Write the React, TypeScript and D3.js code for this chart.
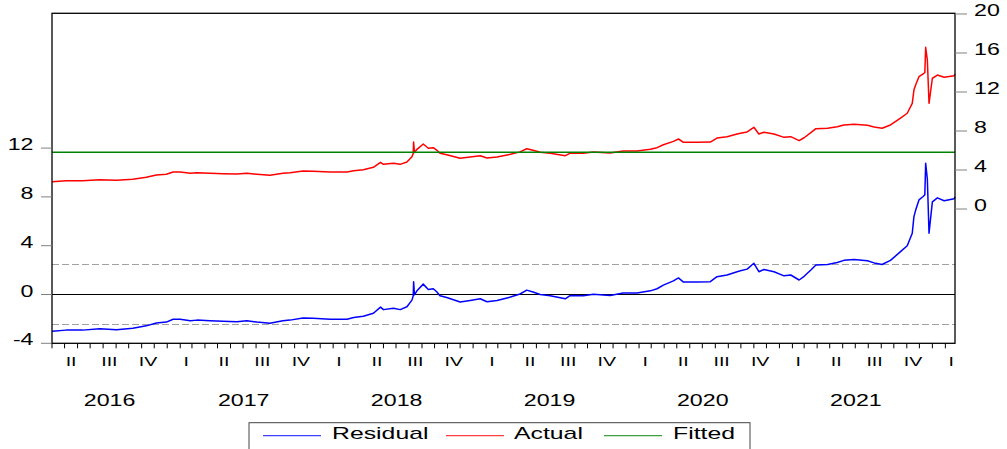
import React from "react";
import * as d3 from "d3";

const dates: string[] = [
  "2016-04-01","2016-05-05","2016-06-13","2016-07-24","2016-09-02","2016-10-11","2016-11-12","2016-12-06","2016-12-30",
  "2017-01-15","2017-02-01","2017-02-25","2017-03-13","2017-04-13","2017-05-14","2017-06-16","2017-07-10","2017-08-03",
  "2017-09-03","2017-10-04","2017-10-21","2017-11-21","2017-12-15",
  "2018-01-25","2018-03-06","2018-03-22","2018-04-14","2018-05-08","2018-05-25","2018-06-01","2018-06-25","2018-07-11",
  "2018-07-27","2018-08-08","2018-08-11","2018-08-12","2018-08-14","2018-08-20","2018-09-04","2018-09-16","2018-09-28",
  "2018-10-06","2018-10-14","2018-10-30","2018-12-01","2018-12-25",
  "2019-01-18","2019-02-03","2019-02-27","2019-03-23","2019-03-31","2019-04-23","2019-05-09","2019-05-24","2019-06-10",
  "2019-07-04","2019-08-09","2019-08-21","2019-09-21","2019-10-15","2019-11-24","2019-12-25",
  "2020-01-27","2020-02-28","2020-03-15","2020-03-30","2020-04-23","2020-05-05","2020-05-17","2020-06-19","2020-07-20",
  "2020-08-05","2020-08-29","2020-09-22","2020-09-30","2020-10-16","2020-11-01","2020-11-13","2020-11-25","2020-12-19",
  "2021-01-12","2021-01-28","2021-02-17","2021-03-01","2021-03-17","2021-03-29","2021-04-26","2021-05-19","2021-06-04",
  "2021-06-28","2021-07-30","2021-08-15","2021-09-03","2021-09-23","2021-10-17","2021-11-02","2021-11-14","2021-11-18",
  "2021-11-22","2021-11-30","2021-12-10","2021-12-14","2021-12-16","2021-12-20","2021-12-24",
  "2022-01-01","2022-01-13","2022-01-29","2022-02-22","2022-02-24",
];

const actualValues: number[] = [
  2.80,2.90,2.90,3.01,2.94,3.05,3.25,3.49,3.56,
  3.79,3.79,3.66,3.72,3.66,3.62,3.59,3.66,3.56,
  3.46,3.66,3.72,3.90,3.87,
  3.79,3.79,3.93,4.03,4.28,4.79,4.58,4.69,4.58,
  4.82,5.36,5.70,6.87,5.80,6.12,6.67,6.23,6.29,
  6.05,5.71,5.57,5.20,5.33,
  5.47,5.23,5.33,5.54,5.61,5.86,6.18,6.02,5.82,
  5.72,5.47,5.74,5.72,5.85,5.74,5.95,
  5.95,6.12,6.29,6.59,6.94,7.18,6.84,6.84,6.87,
  7.28,7.42,7.69,7.76,7.90,8.38,7.69,7.87,7.69,
  7.35,7.42,7.01,7.31,7.83,8.24,8.28,8.44,8.62,
  8.69,8.58,8.41,8.28,8.62,9.33,9.82,10.84,12.20,
  12.72,13.57,13.85,14.00,16.58,15.28,10.84,
  13.41,13.74,13.51,13.67,13.82,
];

const residualValues: number[] = [
  -3.02,-2.92,-2.92,-2.81,-2.88,-2.77,-2.57,-2.33,-2.26,
  -2.03,-2.03,-2.16,-2.10,-2.16,-2.20,-2.23,-2.16,-2.26,
  -2.36,-2.16,-2.10,-1.92,-1.95,
  -2.03,-2.03,-1.89,-1.79,-1.54,-1.03,-1.24,-1.13,-1.24,
  -1.00,-0.46,-0.12,1.05,-0.02,0.30,0.85,0.41,0.47,
  0.23,-0.11,-0.25,-0.62,-0.49,
  -0.35,-0.59,-0.49,-0.28,-0.21,0.04,0.36,0.20,0.00,
  -0.10,-0.35,-0.08,-0.10,0.03,-0.08,0.13,
  0.13,0.30,0.47,0.77,1.12,1.36,1.02,1.02,1.05,
  1.46,1.60,1.87,1.94,2.08,2.56,1.87,2.05,1.87,
  1.53,1.60,1.19,1.49,2.01,2.42,2.46,2.62,2.80,
  2.87,2.76,2.59,2.46,2.80,3.51,4.00,5.02,6.38,
  6.90,7.75,8.03,8.18,10.76,9.46,5.02,
  7.59,7.92,7.69,7.85,8.00,
];

const fittedDates: string[] = ["2016-04-01", "2022-02-24"];
const fittedValues: number[] = [5.82, 5.82];

const residualBands: number[] = [2.46, -2.46];
const leftTicks: number[] = [-4, 0, 4, 8, 12];
const rightTicks: number[] = [0, 4, 8, 12, 16, 20];
const quarterNames: string[] = ["I", "II", "III", "IV"];
const yearLabels: number[] = [2016, 2017, 2018, 2019, 2020, 2021];
const legendItems: { name: string; color: string }[] = [
  { name: "Residual", color: "#0000ff" },
  { name: "Actual", color: "#ff0000" },
  { name: "Fitted", color: "#008000" },
];

const FONT = "'Liberation Sans', Arial, sans-serif";
const SX = 1.45;

export default function App() {
  const left = 52, right = 955, top = 13.3, bottom = 343.3;
  const parse = d3.timeParse("%Y-%m-%d");
  const start = parse("2016-04-01")!;
  const end = parse("2022-02-24")!;
  const x = d3.scaleTime().domain([start, end]).range([left, right]);
  const yL = d3.scaleLinear().domain([-4, 23.05]).range([bottom, top]);
  const yR = d3.scaleLinear().domain([-13.77, 20.07]).range([bottom, top]);

  const pts = dates.map((d) => parse(d)!);
  const lineL = d3.line<number>().x((_, i) => x(pts[i])).y((v) => yL(v));
  const lineR = d3.line<number>().x((_, i) => x(pts[i])).y((v) => yR(v));
  const fitPts = fittedDates.map((d) => parse(d)!);
  const lineF = d3.line<number>().x((_, i) => x(fitPts[i])).y((v) => yR(v));

  const months = d3.timeMonth.range(start, d3.timeDay.offset(end, 1));
  const quarters = d3.timeMonth.every(3)!.range(start, end);
  const quarterLabels = quarters.map((q) => {
    const next = d3.timeMonth.offset(q, 3);
    const mid = new Date((q.getTime() + next.getTime()) / 2);
    return { x: x(mid), label: quarterNames[Math.floor(q.getMonth() / 3)] };
  });
  const years = yearLabels.map((yr) => {
    const a = Math.max(x(new Date(yr, 0, 1)), left);
    const b = x(new Date(yr + 1, 0, 1));
    return { x: (a + b) / 2, label: String(yr) };
  });

  const txt = (xx: number, yy: number, s: string, anchor: string, size = 16, key?: any, sx = SX) => (
    <text
      key={key}
      transform={`translate(${xx},${yy}) scale(${sx},1)`}
      textAnchor={anchor as any}
      fontFamily={FONT}
      fontSize={size}
      fill="#000"
    >
      {s}
    </text>
  );

  const legendY = 435.7;
  const legendPos = [
    { lx1: 263, lx2: 321, tx: 332 },
    { lx1: 446, lx2: 504, tx: 514 },
    { lx1: 604, lx2: 662, tx: 673 },
  ];

  return (
    <svg
      width={1007}
      height={449}
      style={{ position: "absolute", left: 0, top: 0, background: "#fff" }}
    >
      <rect x={0} y={0} width={1007} height={449} fill="#fff" />
      {residualBands.map((b, i) => (
        <line key={"b" + i} x1={left} x2={right} y1={yL(b)} y2={yL(b)} stroke="#a0a0a0" strokeWidth={1} strokeDasharray="7,3" />
      ))}
      <line x1={left} x2={right} y1={yL(0)} y2={yL(0)} stroke="#000" strokeWidth={1} />
      <path d={lineL(residualValues)!} fill="none" stroke="#0000ff" strokeWidth={1.5} strokeLinejoin="round" />
      <path d={lineR(actualValues)!} fill="none" stroke="#ff0000" strokeWidth={1.5} strokeLinejoin="round" />
      <path d={lineF(fittedValues)!} fill="none" stroke="#008000" strokeWidth={1.5} />

      <rect x={left} y={top} width={right - left} height={bottom - top} fill="none" stroke="#000" strokeWidth={1.3} />

      {leftTicks.map((t) => (
        <g key={"l" + t}>
          <line x1={left - 11} x2={left} y1={yL(t)} y2={yL(t)} stroke="#808080" strokeWidth={1} />
          {txt(33.5, yL(t) + 2, String(t), "end", 16)}
        </g>
      ))}
      {rightTicks.map((t) => (
        <g key={"r" + t}>
          <line x1={right} x2={right + 12} y1={yR(t)} y2={yR(t)} stroke="#808080" strokeWidth={1} />
          {txt(974, yR(t) + 2, String(t), "start", 16)}
        </g>
      ))}
      {months.map((m, i) => (
        <line key={"m" + i} x1={x(m)} x2={x(m)} y1={bottom} y2={bottom + 5} stroke="#000" strokeWidth={1} />
      ))}
      {quarterLabels.map((q, i) => txt(q.x, 366, q.label, "middle", 13.5, "q" + i))}
      {years.map((y, i) => txt(y.x, 405.5, y.label, "middle", 16, "y" + i))}

      <rect x={249} y={422.7} width={501} height={40} fill="#fff" stroke="#444" strokeWidth={1} />
      {legendItems.map((it, i) => (
        <g key={"lg" + i}>
          <line x1={legendPos[i].lx1} x2={legendPos[i].lx2} y1={legendY} y2={legendY} stroke={it.color} strokeWidth={1.3} opacity={0.75} />
          {txt(legendPos[i].tx, 438.5, it.name, "start", 16, undefined, 1.55)}
        </g>
      ))}
    </svg>
  );
}
